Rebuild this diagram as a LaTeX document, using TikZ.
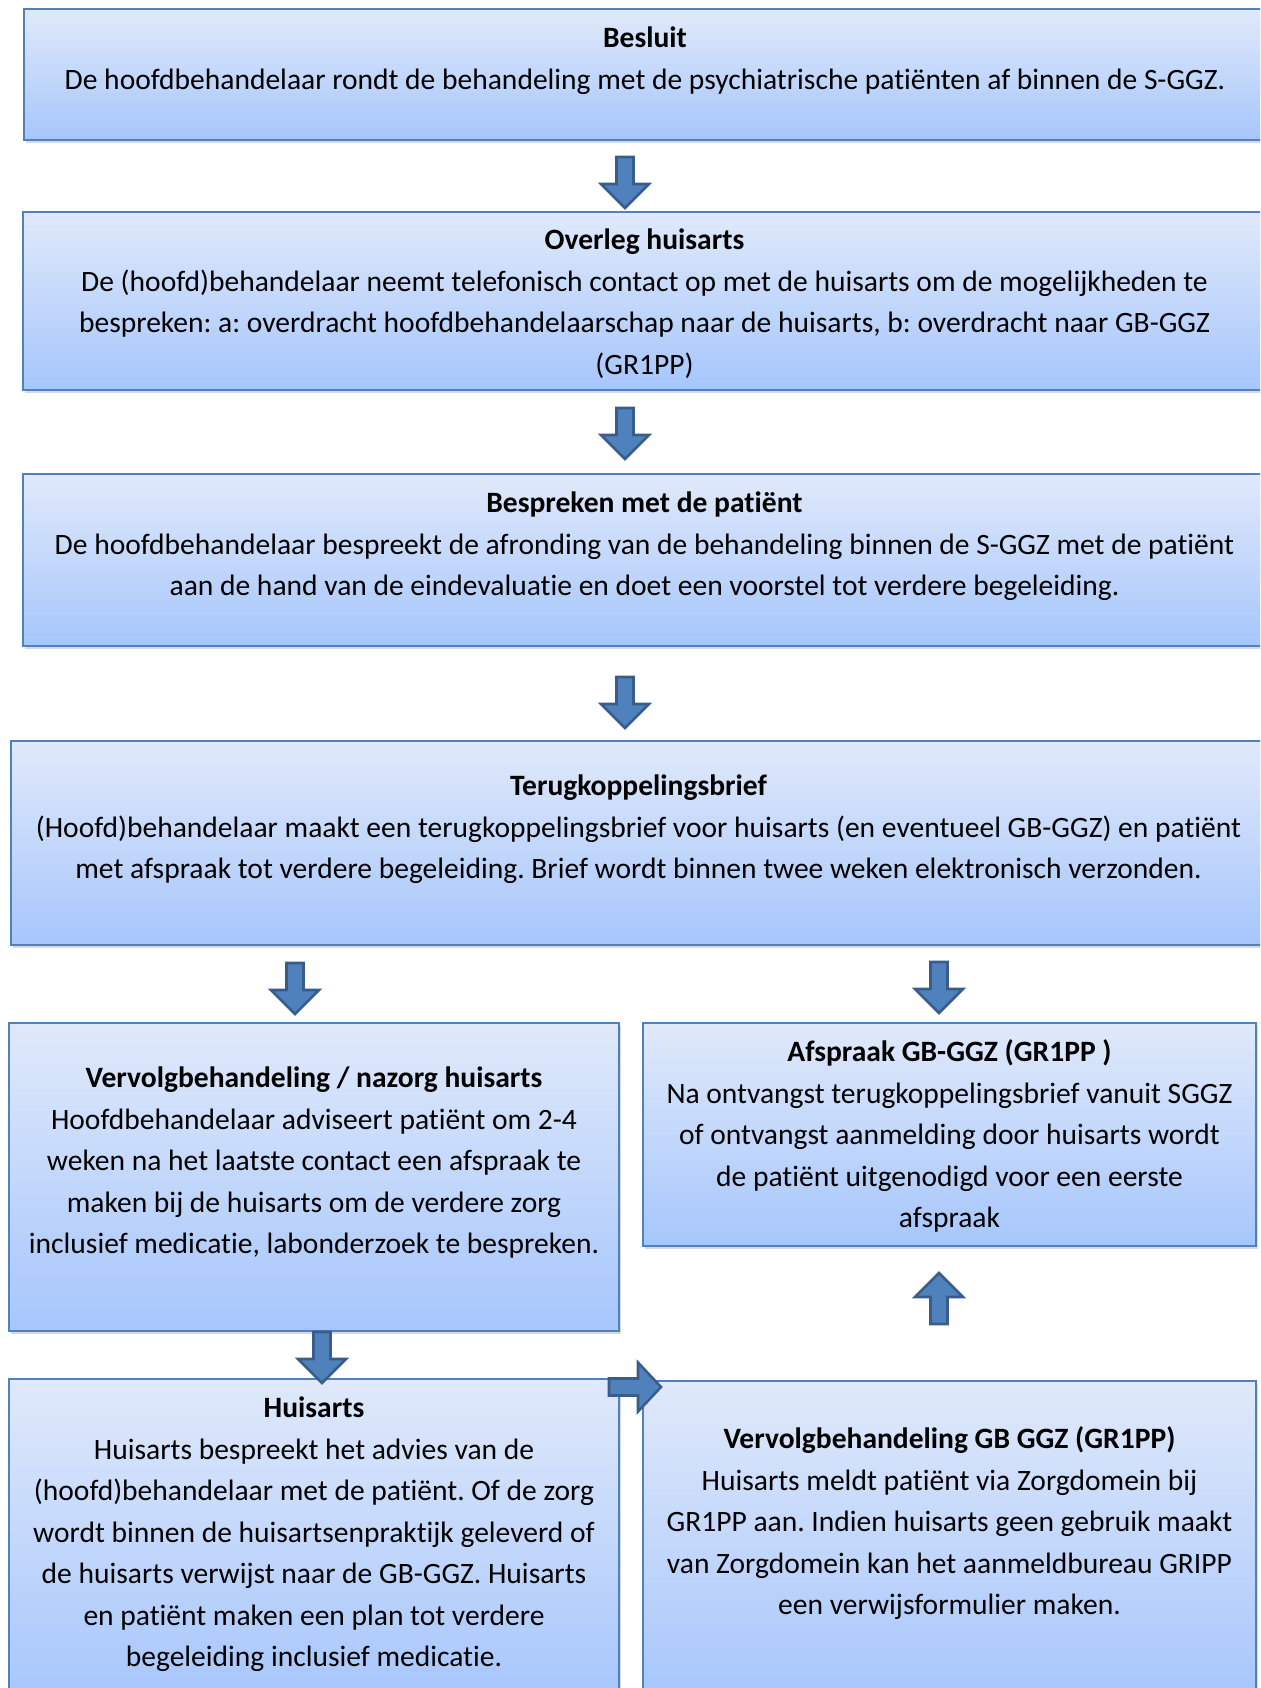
\documentclass[tikz,border=0pt]{standalone}
\usepackage{fontspec}
\setmainfont{Carlito}[Ligatures=NoCommon]
\usetikzlibrary{calc,fit,shadows}
\definecolor{vakboven}{RGB}{224,233,250}
\definecolor{vakonder}{RGB}{166,198,252}
\definecolor{vakrand}{RGB}{79,129,189}
\definecolor{pijlvul}{RGB}{79,129,189}
\definecolor{pijlrand}{RGB}{56,93,138}
\tikzset{
  x=0.43pt,y=-0.43pt,
  stapvak/.style={draw=vakrand,line width=0.7pt,top color=vakboven,bottom color=vakonder,
    inner sep=0pt,drop shadow={shadow xshift=0.8pt,shadow yshift=-1.3pt,opacity=0.3}},
  staptekst/.style={align=center,inner sep=0pt,font=\fontsize{12.7}{17.85}\selectfont\frenchspacing},
  pijl/.style={fill=pijlvul,draw=pijlrand,line width=1.1pt,line join=miter},
}
\newcommand{\stap}[7]{%
  \node[stapvak,fit={(#2,#3) (#4,#5)}] (#1) {};
  \node[staptekst,anchor=north] (#1-tekst) at ($(#1.north)+(0,{#6-20})$) {\strut #7};}
\newcommand{\pijlneer}[2]{%
  \draw[pijl] ({#1-8.5},#2) -- ({#1+8.5},#2) -- ({#1+8.5},{#2+27}) -- ({#1+24},{#2+27})
    -- (#1,{#2+51}) -- ({#1-24},{#2+27}) -- ({#1-8.5},{#2+27}) -- cycle;}
\newcommand{\pijlop}[2]{%
  \draw[pijl] ({#1-8.5},#2) -- ({#1+8.5},#2) -- ({#1+8.5},{#2-27}) -- ({#1+24},{#2-27})
    -- (#1,{#2-51}) -- ({#1-24},{#2-27}) -- ({#1-8.5},{#2-27}) -- cycle;}
\newcommand{\pijlrechts}[2]{%
  \draw[pijl] (#1,{#2-8.5}) -- ({#1+29},{#2-8.5}) -- ({#1+29},{#2-24.5}) -- ({#1+52},#2)
    -- ({#1+29},{#2+24.5}) -- ({#1+29},{#2+8.5}) -- (#1,{#2+8.5}) -- cycle;}

\begin{document}
\begin{tikzpicture}
  \useasboundingbox (0,0) rectangle (1260,1688);
  \clip (0,0) rectangle (1260,1688);
  % bovenste stappen
  \stap{besluit}{24}{9}{1266}{140}{30}{\textbf{Besluit}\\
    De hoofdbehandelaar rondt de behandeling met de psychiatrische patiënten af binnen de S-GGZ.}
  \stap{overleg}{23}{212}{1266}{390}{29}{\textbf{Overleg huisarts}\\
    De (hoofd)behandelaar neemt telefonisch contact op met de huisarts om de mogelijkheden te\\
    bespreken: a: overdracht hoofdbehandelaarschap naar de huisarts, b: overdracht naar GB-GGZ\\
    (GR1PP)}
  \stap{bespreken}{23}{474}{1266}{646}{30}{\textbf{Bespreken met de patiënt}\\
    De hoofdbehandelaar bespreekt de afronding van de behandeling binnen de S-GGZ met de patiënt\\
    aan de hand van de eindevaluatie en doet een voorstel tot verdere begeleiding.}
  \stap{terugkoppeling}{11}{741}{1266}{945}{46}{\textbf{Terugkoppelingsbrief}\\
    (Hoofd)behandelaar maakt een terugkoppelingsbrief voor huisarts (en eventueel GB-GGZ) en patiënt\\
    met afspraak tot verdere begeleiding. Brief wordt binnen twee weken elektronisch verzonden.}
  % twee kolommen
  \stap{nazorg}{9}{1023}{619}{1331}{56}{\textbf{Vervolgbehandeling / nazorg huisarts}\\
    Hoofdbehandelaar adviseert patiënt om 2-4\\
    weken na het laatste contact een afspraak te\\
    maken bij de huisarts om de verdere zorg\\
    inclusief medicatie, labonderzoek te bespreken.}
  \stap{afspraak}{643}{1023}{1256}{1246}{30}{\textbf{Afspraak GB-GGZ (GR1PP )}\\
    Na ontvangst terugkoppelingsbrief vanuit SGGZ\\
    of ontvangst aanmelding door huisarts wordt\\
    de patiënt uitgenodigd voor een eerste\\
    afspraak}
  \stap{huisarts}{9}{1379}{619}{1700}{30}{\textbf{Huisarts}\\
    Huisarts bespreekt het advies van de\\
    (hoofd)behandelaar met de patiënt. Of de zorg\\
    wordt binnen de huisartsenpraktijk geleverd of\\
    de huisarts verwijst naar de GB-GGZ. Huisarts\\
    en patiënt maken een plan tot verdere\\
    begeleiding inclusief medicatie.}
  \stap{gbggz}{643}{1381}{1256}{1700}{59}{\textbf{Vervolgbehandeling GB GGZ (GR1PP)}\\
    Huisarts meldt patiënt via Zorgdomein bij\\
    GR1PP aan. Indien huisarts geen gebruik maakt\\
    van Zorgdomein kan het aanmeldbureau GRIPP\\
    een verwijsformulier maken.}
  % blokpijlen
  \pijlneer{625}{157}\pijlneer{625}{408}\pijlneer{625}{677}
  \pijlneer{295}{963}\pijlneer{939}{962}
  \pijlop{939}{1324}\pijlneer{322}{1332}
  \pijlrechts{609}{1387}
\end{tikzpicture}
\end{document}
